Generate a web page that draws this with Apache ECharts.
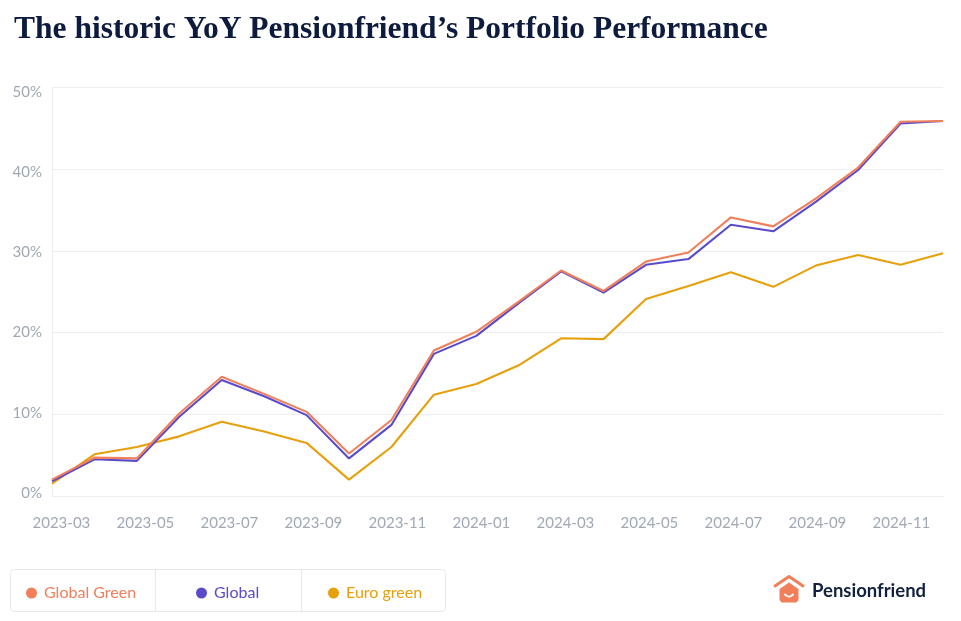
<!DOCTYPE html>
<html>
<head>
<meta charset="utf-8">
<script src="https://cdn.jsdelivr.net/npm/echarts@6/dist/echarts.min.js"></script>
<style>
html,body{margin:0;padding:0;background:#fff;}
#chart{width:961px;height:621px;}
</style>
</head>
<body>
<div id="chart"></div>
<script>
const months = ['2023-03','2023-04','2023-05','2023-06','2023-07','2023-08','2023-09','2023-10','2023-11','2023-12',
  '2024-01','2024-02','2024-03','2024-04','2024-05','2024-06','2024-07','2024-08','2024-09','2024-10','2024-11','2024-12'];
const xTickLabels = ['2023-03','2023-05','2023-07','2023-09','2023-11','2024-01','2024-03','2024-05','2024-07','2024-09','2024-11'];
const globalGreen = [2.0, 4.7, 4.6, 10.1, 14.6, 12.5, 10.3, 5.2, 9.3, 17.8, 20.1, 23.8, 27.6, 25.1, 28.7, 29.8, 34.1, 33.0, 36.4, 40.2, 45.8, 45.9];
const globalFund  = [1.8, 4.5, 4.3, 9.7, 14.2, 12.2, 9.9, 4.6, 8.7, 17.4, 19.6, 23.6, 27.5, 24.9, 28.3, 29.0, 33.2, 32.4, 36.0, 39.9, 45.6, 45.9];
const euroGreen   = [1.5, 5.1, 6.0, 7.3, 9.1, 7.9, 6.5, 2.0, 6.0, 12.4, 13.7, 16.0, 19.3, 19.2, 24.1, 25.7, 27.4, 25.6, 28.2, 29.5, 28.3, 29.7];
const seriesNames = ['Global Green', 'Global', 'Euro green'];
const seriesColors = ['#f07f5a', '#5a4bcb', '#e6a00c'];
const yTicks = [0, 10, 20, 30, 40, 50];

const chart = echarts.init(document.getElementById('chart'), null, {renderer: 'canvas'});
const font = 'Lato, "Noto Sans", sans-serif';
const grey = '#a0a8b4';
const seriesData = [globalGreen, globalFund, euroGreen];
const legendLefts = [21, 191, 323];

// label axes: tick labels placed on their own slightly offset scales (as in the reference)
const xLabelValues = xTickLabels.map(l => months.indexOf(l));

chart.setOption({
  animation: false,
  backgroundColor: '#ffffff',
  title: {
    text: 'The historic YoY Pensionfriend\u2019s Portfolio Performance',
    left: 9, top: 9,
    textStyle: {fontFamily: '"Liberation Serif", serif', fontWeight: 'bold', fontSize: 31.5, color: '#0d1b3e'}
  },
  grid: {left: 52, right: 18, top: 87.5, bottom: 125},
  xAxis: [{
    type: 'category',
    data: months,
    boundaryGap: false,
    axisLine: {show: true, onZero: false, lineStyle: {color: '#eceef1', width: 1}},
    axisTick: {show: false},
    axisLabel: {show: false},
    splitLine: {show: false}
  }, {
    type: 'value',
    position: 'bottom',
    min: -0.224, max: 20.99,
    axisLine: {show: false, onZero: false},
    axisTick: {show: false},
    splitLine: {show: false},
    axisLabel: {
      customValues: xLabelValues,
      color: grey, fontFamily: font, fontSize: 15, margin: 20,
      formatter: v => months[Math.round(v)]
    }
  }],
  yAxis: [{
    type: 'value',
    min: yTicks[0], max: yTicks[yTicks.length - 1], interval: 10,
    axisLine: {show: true, onZero: false, lineStyle: {color: '#eceef1', width: 1}},
    axisTick: {show: false},
    axisLabel: {show: false},
    splitLine: {show: true, lineStyle: {color: '#eceef1', width: 1}}
  }, {
    type: 'value',
    position: 'left',
    min: -0.374, max: 50.52,
    axisLine: {show: false, onZero: false},
    axisTick: {show: false},
    splitLine: {show: false},
    axisLabel: {customValues: yTicks, color: grey, fontFamily: font, fontSize: 15, margin: 10, formatter: '{value}%'}
  }],
  legend: seriesNames.map((n, i) => ({
    data: [{name: n, textStyle: {color: seriesColors[i]}}],
    left: legendLefts[i], top: 580,
    icon: 'circle', itemWidth: 11, itemHeight: 11,
    textStyle: {fontFamily: font, fontSize: 16, color: seriesColors[i], padding: [0, 0, 0, 2]},
    selectedMode: false
  })),
  series: [2, 1, 0].map(i => ({
    name: seriesNames[i],
    type: 'line',
    xAxisIndex: 0, yAxisIndex: 0,
    data: seriesData[i],
    showSymbol: false,
    symbol: 'circle',
    z: 10 - i,
    color: seriesColors[i],
    lineStyle: {width: 2.1, color: seriesColors[i]}
  })),
  graphic: [
    {type: 'rect', shape: {x: 10.5, y: 569.5, width: 435, height: 42, r: 4}, style: {fill: '#fff', stroke: '#e6e8ec', lineWidth: 1}, z: -1},
    {type: 'line', shape: {x1: 155.5, y1: 570, x2: 155.5, y2: 611}, style: {stroke: '#e6e8ec', lineWidth: 1}, z: -1},
    {type: 'line', shape: {x1: 301.5, y1: 570, x2: 301.5, y2: 611}, style: {stroke: '#e6e8ec', lineWidth: 1}, z: -1},
    // logo
    {type: 'polyline', shape: {points: [[775, 586], [789, 576.5], [803, 586]]}, style: {stroke: '#f07f5a', lineWidth: 3, fill: null, lineJoin: 'round', lineCap: 'round'}},
    {type: 'polygon', shape: {points: [[779.5, 589], [789, 582.5], [798.5, 589], [798.5, 600], [796.5, 602.5], [781.5, 602.5], [779.5, 600]]}, style: {fill: '#f07f5a'}},
    {type: 'arc', shape: {cx: 789, cy: 591.5, r: 5, startAngle: Math.PI * 0.2, endAngle: Math.PI * 0.8}, style: {stroke: '#fff', lineWidth: 2, fill: null, lineCap: 'round'}},
    {type: 'text', left: 812, top: 582, style: {text: 'Pensionfriend', fontFamily: font, fontWeight: 'bold', fontSize: 18.5, fill: '#13213f'}}
  ]
});
</script>
</body>
</html>
